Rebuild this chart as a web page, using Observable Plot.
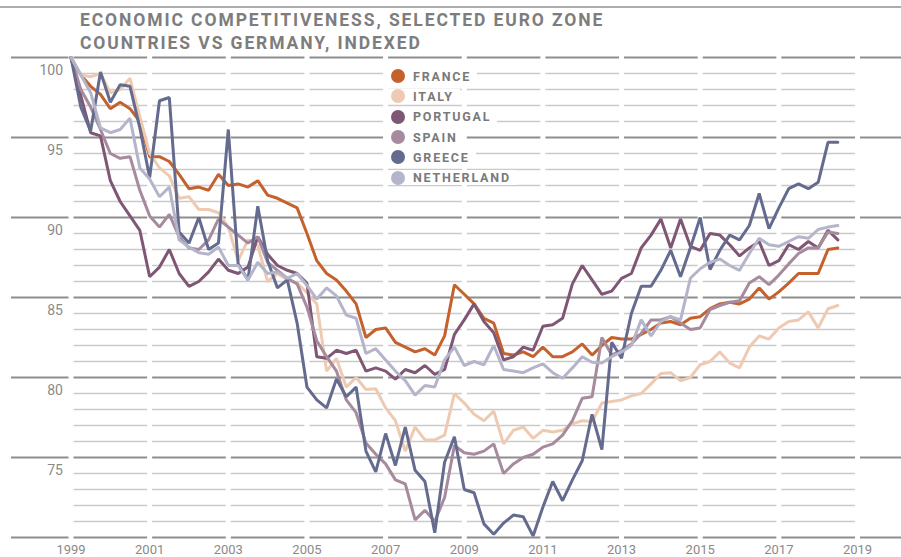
<!DOCTYPE html>
<html><head><meta charset="utf-8">
<script src="https://cdn.jsdelivr.net/npm/d3@7"></script>
<script src="https://cdn.jsdelivr.net/npm/@observablehq/plot@0.6"></script>
<style>
body{margin:0;background:#fff;}
#wrap{position:relative;width:901px;height:557px;font-family:Roboto,"Liberation Sans",sans-serif;overflow:hidden;}
#wrap svg{position:absolute;left:0;top:0;}
#rule{position:absolute;left:0;top:6px;width:901px;height:2px;background:#adadad;}
#title{position:absolute;left:80px;top:8.5px;font-weight:700;font-size:17.5px;letter-spacing:1.9px;color:#7d7d7d;line-height:23px;white-space:nowrap;}
#legend{position:absolute;left:383px;top:66px;}
.item{height:20.3px;display:flex;align-items:center;}
.bg{background:#fff;display:flex;align-items:center;padding:0 6px 0 8px;height:15px;}
.dot{width:14px;height:14px;border-radius:50%;margin-right:8px;}
.lab{font-weight:700;font-size:12.5px;letter-spacing:1.8px;color:#7a7a7a;line-height:15px;}
</style>
</head><body>
<div id="wrap"></div>
<script>
const start = 1999; // first quarter 1999Q1, quarterly data to 2018Q3
const countries = ["FRANCE","ITALY","PORTUGAL","SPAIN","GREECE","NETHERLAND"];
const colors = ["#c4612d","#eecab2","#7f5674","#a68a9e","#646b8e","#b4b5ca"];

const france = [100,98.9,98.2,97.7,96.8,97.2,96.8,96.0,93.8,93.8,93.5,92.7,91.8,91.9,91.7,92.7,92.0,92.1,91.9,92.3,91.4,91.2,90.9,90.6,89.0,87.3,86.5,86.1,85.4,84.6,82.5,83.0,83.1,82.2,81.9,81.6,81.8,81.4,82.6,85.8,85.2,84.6,83.7,83.4,81.5,81.4,81.6,81.3,81.9,81.3,81.3,81.6,82.1,81.4,82.0,82.5,82.4,82.4,82.7,83.0,83.4,83.5,83.3,83.7,83.8,84.3,84.6,84.7,84.6,84.9,85.6,84.9,85.35,85.9,86.5,86.5,86.5,88.0,88.1];
const italy = [100,98.9,98.8,99.0,97.8,98.0,98.7,96.3,94.0,93.1,92.6,91.2,91.3,90.5,90.5,90.3,89.4,87.3,88.6,88.25,86.0,86.5,86.1,85.9,85.3,84.6,80.4,81.2,79.4,80.0,79.25,79.3,78.1,77.3,75.4,76.9,76.1,76.1,76.4,79.0,78.4,77.7,77.3,77.9,75.85,76.7,76.9,76.2,76.7,76.6,76.7,77.1,77.3,77.25,78.4,78.5,78.6,78.85,79.0,79.6,80.25,80.3,79.8,80.0,80.8,81.0,81.6,80.9,80.6,81.9,82.6,82.4,83.1,83.5,83.6,84.1,83.1,84.3,84.5];
const portugal = [100,97.6,95.3,95.1,92.3,91.0,90.1,89.2,86.3,86.9,88.0,86.5,85.7,86.0,86.6,87.4,86.7,86.5,86.9,88.8,87.7,87.0,86.7,86.5,85.9,81.3,81.2,81.7,81.5,81.7,80.4,80.6,80.4,79.9,80.5,80.3,80.75,80.2,80.5,82.7,83.6,84.6,83.5,82.8,81.1,81.3,81.9,81.7,83.2,83.3,83.7,85.85,87.0,86.1,85.2,85.4,86.2,86.5,88.1,88.9,89.9,88.1,89.9,88.2,87.95,89.0,88.9,88.3,87.6,88.1,88.5,87.0,87.3,88.3,88.0,88.5,88.1,89.2,88.6];
const spain = [100,98.0,96.9,95.5,94.0,93.7,93.8,91.7,90.1,89.4,90.2,88.8,88.1,88.0,88.6,89.9,89.4,88.9,88.4,88.8,87.2,86.7,86.2,85.85,84.4,82.3,81.3,80.4,78.6,77.8,75.9,75.2,74.6,73.6,73.35,71.1,71.7,71.0,72.5,75.75,75.3,75.2,75.4,75.85,74.0,74.6,75.0,75.2,75.65,75.85,76.4,77.3,78.7,78.8,82.5,81.4,81.7,82.1,82.75,83.6,83.6,83.8,83.4,83.0,83.1,84.25,84.5,84.7,84.8,85.9,86.3,85.8,86.4,87.1,87.75,88.1,88.1,89.1,89.0];
const greece = [100,96.9,95.4,99.1,97.2,98.3,98.2,95.6,92.5,97.3,97.5,89.1,88.4,90.0,88.0,88.4,95.5,87.1,86.1,90.7,87.3,85.6,86.1,83.4,79.4,78.6,78.1,79.9,78.8,79.4,75.4,74.1,76.5,74.5,76.9,74.2,73.5,70.3,74.7,76.3,73.0,72.8,70.85,70.2,70.9,71.4,71.3,70.1,71.9,73.5,72.3,73.6,74.8,77.7,75.5,82.2,81.2,84.0,85.7,85.7,86.7,87.95,86.3,88.1,90.0,86.75,87.95,88.9,88.6,89.5,91.5,89.3,90.6,91.8,92.1,91.8,92.2,94.7,94.7];
const netherland = [100,98.9,97.8,95.6,95.3,95.5,96.2,93.1,92.4,91.3,91.9,88.6,88.15,87.8,87.7,88.15,87.0,87.0,86.1,87.2,86.5,86.6,86.2,86.5,85.75,84.9,85.6,85.1,83.9,83.7,81.5,81.8,81.1,80.4,79.8,78.9,79.5,79.4,81.1,81.9,80.75,81.0,80.8,82.0,80.5,80.4,80.3,80.6,80.85,80.3,79.95,80.6,81.3,80.95,80.9,81.3,81.6,82.0,83.6,82.6,83.5,83.8,83.6,86.2,86.8,87.2,87.4,87.0,86.7,87.75,88.7,88.3,88.2,88.5,88.8,88.7,89.25,89.4,89.5];

const yLabels = [75,80,85,90,95,100];
const xTicks = [1999,2001,2003,2005,2007,2009,2011,2013,2015,2017,2019];
const yMajor = [70,75,80,85,90,95,100];
const yMinor = d3.range(70,101).filter(v => v % 5 !== 0);

const series = [france, italy, portugal, spain, greece, netherland];
const data = series.flatMap((vals,k) => vals.map((v,i) => ({country: countries[k], t: start + i/4, v})));

const chart = Plot.plot({
  width: 901, height: 557,
  marginLeft: 70.5, marginRight: 44, marginTop: 57, marginBottom: 20,
  style: {fontFamily: "Roboto, 'Liberation Sans', sans-serif", background: "#fff"},
  x: {domain: [1999, 2019], axis: null},
  y: {domain: [70, 100], axis: null},
  color: {domain: countries, range: colors},
  marks: [
    Plot.ruleY(yMinor, {stroke: "#cacaca", strokeWidth: 1.5}),
    Plot.ruleY(yMajor, {stroke: "#8e8e8e", strokeWidth: 2, insetLeft: -59.5, insetRight: -44}),
    Plot.ruleX(xTicks, {y1: 69.6, y2: 100.4, stroke: "#fff", strokeWidth: 5}),
    Plot.line(data, {x: "t", y: "v", z: "country", stroke: "country", strokeWidth: 3, strokeLinejoin: "miter"}),
    Plot.text(yLabels, {x: 1999, y: d => d, text: d => String(d), dx: -8, dy: 13, textAnchor: "end", fill: "#8a8a8a", fontSize: 14}),
    Plot.text(xTicks, {x: d => d, y: 70, text: d => String(d), dy: 12, fill: "#8a8a8a", fontSize: 13})
  ]
});

const wrap = document.getElementById("wrap");
wrap.appendChild(chart);

const rule = document.createElement("div"); rule.id = "rule"; wrap.appendChild(rule);
const title = document.createElement("div"); title.id = "title";
title.innerHTML = "ECONOMIC COMPETITIVENESS, SELECTED EURO ZONE<br>COUNTRIES VS GERMANY, INDEXED";
wrap.appendChild(title);

const legend = document.createElement("div"); legend.id = "legend";
countries.forEach((c,k) => {
  const item = document.createElement("div"); item.className = "item";
  const bg = document.createElement("span"); bg.className = "bg";
  const dot = document.createElement("span"); dot.className = "dot"; dot.style.background = colors[k];
  const lab = document.createElement("span"); lab.className = "lab"; lab.textContent = c;
  bg.appendChild(dot); bg.appendChild(lab); item.appendChild(bg); legend.appendChild(item);
});
wrap.appendChild(legend);
</script>
</body></html>
